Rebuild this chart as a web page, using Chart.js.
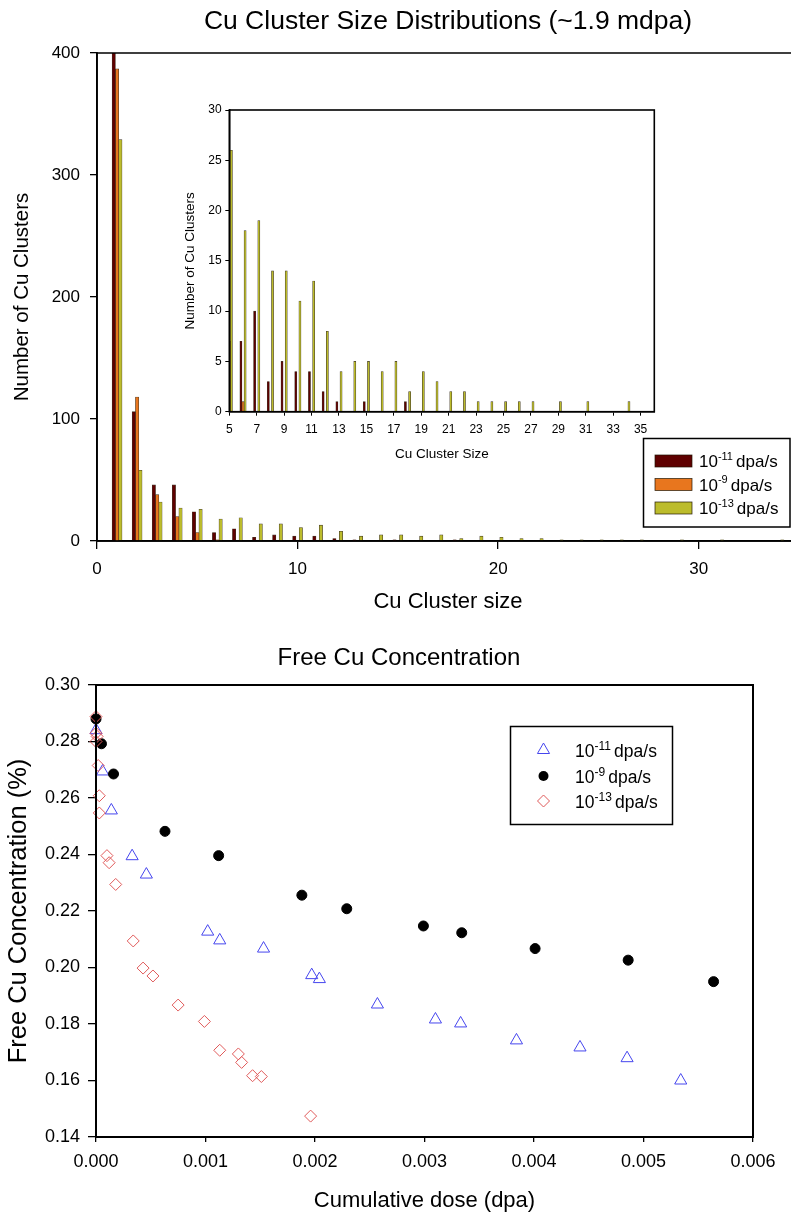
<!DOCTYPE html>
<html><head><meta charset="utf-8">
<script src="https://cdn.jsdelivr.net/npm/chart.js@4.4.0/dist/chart.umd.min.js"></script>
<style>
html,body{margin:0;padding:0;background:#fff;overflow:hidden;width:791px;height:1214px;}
canvas{position:absolute;}
#main{left:0;top:0;}
#inset{left:150px;top:95px;}
#scatter{left:0;top:630px;}
</style></head><body>
<canvas id="main" width="810" height="620"></canvas>
<canvas id="inset" width="520" height="380"></canvas>
<canvas id="scatter" width="798" height="584"></canvas>
<script>
const FONT = '"Liberation Sans", Arial, Helvetica, sans-serif';

// ---- Cluster size distribution data ----
const clusterSizes = [1,2,3,4,5,6,7,8,9,10,11,12,13,14,15,16,17,18,19,20,21,22,23,24,25,26,27,28,29,30,31,32,33,34];
const counts11 = [450,106,46,46,24,7,10,3,5,4,4,2,1,0,1,0,0,1,0,0,0,0,0,0,0,0,0,0,0,0,0,0,0,0];
const counts9  = [387,118,38,20,7,1,0,0,0,0,0,0,0,0,0,0,0,0,0,0,0,0,0,0,0,0,0,0,0,0,0,0,0,0];
const counts13 = [329,58,32,27,26,18,19,14,14,11,13,8,4,5,5,4,5,2,4,3,2,2,1,1,1,1,1,0,1,0,1,0,0,1];
const seriesLabels = ['10\u207B\u00B9\u00B9 dpa/s', '10\u207B\u2079 dpa/s', '10\u207B\u00B9\u00B3 dpa/s'];
const legendBase = ['10', '10', '10'];
const legendExp = ['-11', '-9', '-13'];
const legendUnit = 'dpa/s';
const mainXTicks = [0, 10, 20, 30];
const mainYTicks = [0, 100, 200, 300, 400];
const insetXTicks = [5,7,9,11,13,15,17,19,21,23,25,27,29,31,33,35];
const insetYTicks = [0,5,10,15,20,25,30];

// ---- Free Cu concentration data ----
const dose11 = [0.00000,0.00006,0.00014,0.00033,0.00046,0.00102,0.00113,0.00153,0.00197,0.00204,0.00257,0.00310,0.00333,0.00384,0.00442,0.00485,0.00534];
const conc11 = [0.2840,0.2694,0.2556,0.2394,0.2329,0.2127,0.2096,0.2067,0.1973,0.1959,0.1869,0.1816,0.1802,0.1742,0.1717,0.1679,0.1600];
const dose9 = [0.00000,0.00005,0.00016,0.00063,0.00112,0.00188,0.00229,0.00299,0.00334,0.00401,0.00486,0.00564];
const conc9 = [0.2880,0.2792,0.2685,0.2482,0.2396,0.2256,0.2208,0.2147,0.2123,0.2067,0.2026,0.1950];
const dose13 = [0.00000,0.00000,0.00001,0.00000,0.00002,0.00003,0.00003,0.00010,0.00012,0.00018,0.00034,0.00043,0.00052,0.00075,0.00099,0.00113,0.00130,0.00133,0.00143,0.00151,0.00196];
const conc13 = [0.2888,0.2829,0.2818,0.2800,0.2715,0.2608,0.2547,0.2396,0.2371,0.2294,0.2094,0.1998,0.1970,0.1867,0.1809,0.1707,0.1694,0.1664,0.1617,0.1614,0.1474];
const doseTicks = [0, 0.001, 0.002, 0.003, 0.004, 0.005, 0.006];
const concTicks = [0.14, 0.16, 0.18, 0.20, 0.22, 0.24, 0.26, 0.28, 0.30];

const barColors = ['#5f0000', '#e8761e', '#bcbc2c'];

function toBars(vals) {
  return clusterSizes.map((s, i) => ({ x: s, y: vals[i] === 0 ? null : vals[i] }));
}
function toPts(xs, ys) { return xs.map((x, i) => ({ x: x, y: ys[i] })); }
function barSets(th) {
  return [counts11, counts9, counts13].map((vals, k) => ({
    label: seriesLabels[k], data: toBars(vals), backgroundColor: barColors[k],
    borderColor: 'rgba(30,20,0,0.85)', borderWidth: 0.6, barThickness: th, grouped: true
  }));
}
function fixedTicks(arr) { return s => { s.ticks = arr.map(v => ({ value: v })); }; }

const framePlugin = {
  id: 'frame',
  afterDatasetsDraw(chart, args, opts) {
    const { ctx, chartArea: a } = chart;
    ctx.save(); ctx.strokeStyle = '#000'; ctx.lineWidth = opts.width || 1.5;
    ctx.strokeRect(a.left, a.top, a.right - a.left, a.bottom - a.top);
    ctx.restore();
  }
};

function drawSup(ctx, x, y, base, exp, unit, size) {
  ctx.fillStyle = '#000'; ctx.textBaseline = 'alphabetic'; ctx.textAlign = 'left';
  ctx.font = size + 'px ' + FONT;
  ctx.fillText(base, x, y);
  let w = ctx.measureText(base).width;
  const es = Math.round(size * 0.66);
  ctx.font = es + 'px ' + FONT;
  ctx.fillText(exp, x + w, y - size * 0.42);
  w += ctx.measureText(exp).width + size * 0.18;
  ctx.font = size + 'px ' + FONT;
  ctx.fillText(unit, x + w, y);
}

const barLegendPlugin = {
  id: 'barLegend',
  afterDraw(chart) {
    const ctx = chart.ctx;
    ctx.save();
    ctx.fillStyle = '#fff'; ctx.fillRect(643.5, 438.5, 146.5, 88.5);
    ctx.strokeStyle = '#000'; ctx.lineWidth = 1.5; ctx.strokeRect(643.5, 438.5, 146.5, 88.5);
    const ys = [461, 484.5, 508];
    for (let k = 0; k < 3; k++) {
      ctx.fillStyle = barColors[k];
      ctx.fillRect(655, ys[k] - 6, 37, 12);
      ctx.strokeStyle = 'rgba(30,20,0,0.85)'; ctx.lineWidth = 0.8;
      ctx.strokeRect(655, ys[k] - 6, 37, 12);
      drawSup(ctx, 699, ys[k] + 6, legendBase[k], legendExp[k], legendUnit, 17);
    }
    ctx.restore();
  }
};

const scatterLegendPlugin = {
  id: 'scatterLegend',
  afterDraw(chart) {
    const ctx = chart.ctx;
    ctx.save();
    ctx.fillStyle = '#fff'; ctx.fillRect(510.5, 96.5, 162, 98);
    ctx.strokeStyle = '#000'; ctx.lineWidth = 1.5; ctx.strokeRect(510.5, 96.5, 162, 98);
    const mx = 543.5, ys = [120, 146, 171];
    ctx.strokeStyle = '#4646ee'; ctx.lineWidth = 1;
    ctx.beginPath();
    for (let i = 0; i < 3; i++) {
      const r = 7, ang = i * 2 * Math.PI / 3;
      const px = mx + Math.sin(ang) * r, py = ys[0] - Math.cos(ang) * r;
      if (i === 0) ctx.moveTo(px, py); else ctx.lineTo(px, py);
    }
    ctx.closePath(); ctx.stroke();
    ctx.fillStyle = '#000'; ctx.beginPath(); ctx.arc(mx, ys[1], 5, 0, 2 * Math.PI); ctx.fill();
    ctx.strokeStyle = '#e05a5a'; ctx.beginPath();
    ctx.moveTo(mx, ys[2] - 6); ctx.lineTo(mx + 6, ys[2]); ctx.lineTo(mx, ys[2] + 6); ctx.lineTo(mx - 6, ys[2]); ctx.closePath(); ctx.stroke();
    for (let k = 0; k < 3; k++) drawSup(ctx, 575, ys[k] + 7, legendBase[k], legendExp[k], legendUnit, 17.5);
    ctx.restore();
  }
};

function axisGrid(len) {
  return { display: true, drawOnChartArea: false, drawTicks: true, tickLength: len, color: '#000', lineWidth: 1.3 };
}
const border = { display: true, color: '#000', width: 1.8 };

// ---- Main bar chart ----
new Chart(document.getElementById('main'), {
  type: 'bar',
  data: { datasets: barSets(3.3) },
  plugins: [framePlugin, barLegendPlugin],
  options: {
    responsive: false, animation: false,
    layout: { padding: { left: 0, right: 11, top: 0, bottom: 0 } },
    plugins: {
      legend: { display: false }, tooltip: { enabled: false },
      title: { display: true, fullSize: false, text: 'Cu Cluster Size Distributions (~1.9 mdpa)', color: '#000',
        font: { family: FONT, size: 26.5, weight: 'normal' }, padding: { top: 6, bottom: 15.2 } },
      frame: { width: 1.5 }
    },
    scales: {
      x: {
        type: 'linear', min: 0, max: 35, offset: false,
        grid: Object.assign(axisGrid(8), { offset: false }), border: border,
        afterBuildTicks: fixedTicks(mainXTicks), afterFit: s => { s.height = 79; },
        ticks: { color: '#000', font: { family: FONT, size: 17 }, padding: 10, autoSkip: false, maxRotation: 0 },
        title: { display: true, text: 'Cu Cluster size', color: '#000', font: { family: FONT, size: 22 }, padding: { top: 0, bottom: 5 } }
      },
      y: {
        min: 0, max: 400,
        grid: axisGrid(7), border: border,
        afterBuildTicks: fixedTicks(mainYTicks), afterFit: s => { s.width = 97; },
        ticks: { color: '#000', font: { family: FONT, size: 17 }, padding: 10 },
        title: { display: true, text: 'Number of Cu Clusters', color: '#000', font: { family: FONT, size: 20.5 }, padding: { top: 10, bottom: 0 } }
      }
    }
  }
});

// ---- Inset bar chart ----
new Chart(document.getElementById('inset'), {
  type: 'bar',
  data: { datasets: barSets(2.1) },
  plugins: [framePlugin],
  options: {
    responsive: false, animation: false,
    layout: { padding: { left: 0, right: 15.7, top: 15, bottom: 0 } },
    plugins: { legend: { display: false }, tooltip: { enabled: false }, frame: { width: 1.6 } },
    scales: {
      x: {
        type: 'linear', min: 5, max: 36, offset: false,
        grid: Object.assign(axisGrid(4), { offset: false, lineWidth: 1 }), border: { display: true, color: '#000', width: 1.5 },
        afterBuildTicks: fixedTicks(insetXTicks), afterFit: s => { s.height = 63.3; },
        ticks: { color: '#000', font: { family: FONT, size: 12 }, padding: 7, autoSkip: false, maxRotation: 0 },
        title: { display: true, text: 'Cu Cluster Size', color: '#000', font: { family: FONT, size: 13.5 }, padding: { top: 0, bottom: 13 } }
      },
      y: {
        min: 0, max: 30,
        grid: Object.assign(axisGrid(4), { lineWidth: 1 }), border: { display: true, color: '#000', width: 1.5 },
        afterBuildTicks: fixedTicks(insetYTicks), afterFit: s => { s.width = 79.3; },
        ticks: { color: '#000', font: { family: FONT, size: 12 }, padding: 3.6 },
        title: { display: true, text: 'Number of Cu Clusters', color: '#000', font: { family: FONT, size: 13.5 }, padding: { top: 32.5, bottom: 0 } }
      }
    }
  }
});

// ---- Scatter chart ----
new Chart(document.getElementById('scatter'), {
  type: 'scatter',
  data: {
    datasets: [
      { label: seriesLabels[0], data: toPts(dose11, conc11), order: 2, pointStyle: 'triangle', pointRadius: 7,
        pointBorderColor: '#4646ee', pointBackgroundColor: 'rgba(0,0,0,0)', pointBorderWidth: 1, clip: false },
      { label: seriesLabels[1], data: toPts(dose9, conc9), order: 1, pointStyle: 'circle', pointRadius: 5,
        pointBorderColor: '#000', pointBackgroundColor: '#000', pointBorderWidth: 1, clip: false },
      { label: seriesLabels[2], data: toPts(dose13, conc13), order: 0, pointStyle: 'rectRot', pointRadius: 6,
        pointBorderColor: '#e05a5a', pointBackgroundColor: 'rgba(0,0,0,0)', pointBorderWidth: 1, clip: false }
    ]
  },
  plugins: [framePlugin, scatterLegendPlugin],
  options: {
    responsive: false, animation: false,
    layout: { padding: { left: 0, right: 0, top: 0, bottom: 0 } },
    plugins: {
      legend: { display: false }, tooltip: { enabled: false },
      title: { display: true, text: 'Free Cu Concentration', color: '#000',
        font: { family: FONT, size: 24, weight: 'normal' }, padding: { top: 13.6, bottom: 12.6 } },
      frame: { width: 2 }
    },
    scales: {
      x: {
        type: 'linear', min: 0, max: 0.006,
        grid: axisGrid(5), border: border,
        afterBuildTicks: fixedTicks(doseTicks), afterFit: s => { s.height = 77; },
        ticks: { color: '#000', font: { family: FONT, size: 18 }, padding: 9.7, autoSkip: false, maxRotation: 0,
          callback: v => Number(v).toFixed(3) },
        title: { display: true, text: 'Cumulative dose (dpa)', color: '#000', font: { family: FONT, size: 22 }, padding: { top: 0, bottom: 0 } }
      },
      y: {
        min: 0.14, max: 0.30,
        grid: axisGrid(8), border: border,
        afterBuildTicks: fixedTicks(concTicks), afterFit: s => { s.width = 96; },
        ticks: { color: '#000', font: { family: FONT, size: 18 }, padding: 8, callback: v => Number(v).toFixed(2) },
        title: { display: true, text: 'Free Cu Concentration (%)', color: '#000', font: { family: FONT, size: 25.5 }, padding: { top: 4, bottom: 0 } }
      },
      yRight: {
        position: 'right', display: true,
        grid: { display: false }, border: { display: false }, ticks: { display: false },
        afterFit: s => { s.width = 45; }
      }
    }
  }
});
</script></body></html>
